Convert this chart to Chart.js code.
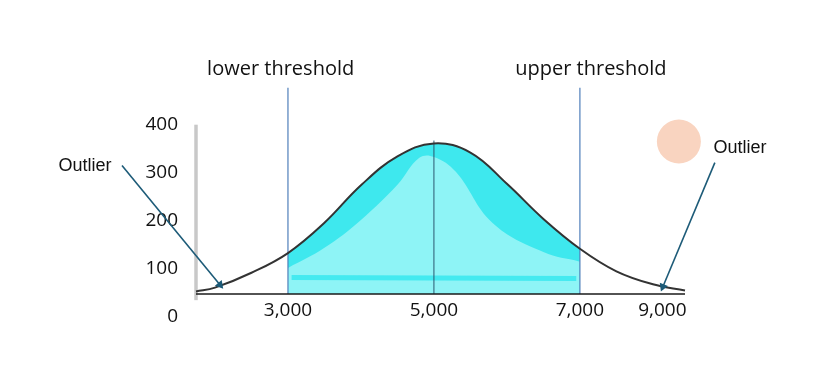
<!DOCTYPE html>
<html>
<head>
<meta charset="utf-8">
<script src="https://cdn.jsdelivr.net/npm/chart.js@4.4.1/dist/chart.umd.min.js"></script>
<style>
  html, body { margin: 0; padding: 0; background: #fff; }
  #wrap { position: relative; width: 826px; height: 372px; }
</style>
</head>
<body>
<div id="wrap"><canvas id="chart"></canvas></div>
<script>
  /* bell curve */
  const curveX = [1740, 2000, 2500, 3000, 3500, 4000, 4500, 5000, 5500, 6000, 6500, 7000, 7500, 8000, 8440];
  const curveY = [53, 61, 92, 133, 196, 274, 334, 361, 342, 277, 204, 142, 95, 68, 55];

  /* lighter inner part of the painted area */
  const innerX = [3000, 3500, 4000, 4500, 4800, 5000, 5300, 5800, 6500, 7000];
  const innerY = [102, 144, 202, 275, 331, 333, 302, 196, 135, 115];

  const lowerThreshold = 3000;
  const upperThreshold = 7000;
  const meanX = 5000;
  const baseY = 48;
  const thresholdTop = 477;

  const outlierX = [8356];
  const outlierY = [365];

  const xTickValues = [3000, 5000, 7000, 8130];
  const xTickLabels = ['3,000', '5,000', '7,000', '9,000'];
  const yTicks = [0, 100, 200, 300, 400];

  const xMin = 1740, xMax = 8440;

  const pts = (xs, ys) => xs.map((x, i) => ({ x: x, y: ys[i] }));
  const curve = pts(curveX, curveY);
  const shade = curve.filter(p => p.x >= lowerThreshold && p.x <= upperThreshold);

  const notes = [
    { text: 'lower threshold', x: 2900, y: 515, font: '20px "Open Sans"' },
    { text: 'upper threshold', x: 7150, y: 515, font: '20px "Open Sans"' },
    { text: 'Outlier', x: 219, y: 315, font: '18px "Liberation Sans"' },
    { text: 'Outlier', x: 9192, y: 352, font: '18px "Liberation Sans"' }
  ];

  const notesPlugin = {
    id: 'notes',
    afterDraw(chart) {
      const { ctx, scales } = chart;
      ctx.save();
      ctx.fillStyle = '#111';
      ctx.textAlign = 'center';
      ctx.textBaseline = 'middle';
      notes.forEach(n => {
        ctx.font = n.font;
        ctx.fillText(n.text, scales.x.getPixelForValue(n.x), scales.y.getPixelForValue(n.y));
      });
      ctx.restore();
    }
  };

  const plain = { pointRadius: 0, fill: false, clip: false, tension: 0 };

  function arrow(from, to, rot) {
    return Object.assign({}, plain, {
      data: [from, to],
      borderColor: '#1d5b78',
      backgroundColor: '#1d5b78',
      borderWidth: 1.6,
      pointRadius: [0, 3.5],
      pointStyle: 'triangle',
      pointRotation: [0, rot],
      order: 1
    });
  }

  new Chart(document.getElementById('chart'), {
    type: 'line',
    data: {
      datasets: [
        /* curve */
        Object.assign({}, plain, {
          data: curve, borderColor: '#333', borderWidth: 2,
          tension: 0.4, order: 2
        }),
        /* x axis line */
        Object.assign({}, plain, {
          data: [{ x: xMin, y: baseY }, { x: xMax, y: baseY }],
          borderColor: '#1a1a1a', borderWidth: 1.5, order: 3
        }),
        /* threshold lines */
        Object.assign({}, plain, {
          data: [{ x: lowerThreshold, y: baseY }, { x: lowerThreshold, y: thresholdTop }],
          borderColor: '#4f7fba', borderWidth: 1.2, order: 4
        }),
        Object.assign({}, plain, {
          data: [{ x: upperThreshold, y: baseY }, { x: upperThreshold, y: thresholdTop }],
          borderColor: '#4f7fba', borderWidth: 1.2, order: 4
        }),
        /* mean line */
        Object.assign({}, plain, {
          data: [{ x: meanX, y: baseY }, { x: meanX, y: 367 }],
          borderColor: '#2b5870', borderWidth: 1, order: 4
        }),
        /* grey y axis */
        Object.assign({}, plain, {
          data: [{ x: xMin, y: 35 }, { x: xMin, y: 400 }],
          borderColor: '#c8c8c8', borderWidth: 3.5, order: 5
        }),
        /* arrows */
        arrow({ x: 726, y: 315 }, { x: 2068, y: 67 }, 140),
        arrow({ x: 8849, y: 321 }, { x: 8137, y: 63 }, 203),
        /* outlier dot */
        {
          type: 'scatter',
          data: pts(outlierX, outlierY),
          pointRadius: 22,
          backgroundColor: '#f9d4c0',
          borderWidth: 0,
          clip: false,
          order: 6
        },
        /* painted streak near the bottom */
        Object.assign({}, plain, {
          data: [{ x: 3050, y: 82 }, { x: 6950, y: 80 }],
          borderColor: 'rgba(55,232,238,0.85)', borderWidth: 5, order: 7
        }),
        /* inner lighter paint */
        Object.assign({}, plain, {
          data: pts(innerX, innerY),
          borderWidth: 0,
          borderColor: 'rgba(0,0,0,0)',
          backgroundColor: '#8ef4f6',
          fill: { value: baseY },
          tension: 0.4,
          order: 8
        }),
        /* outer bright paint */
        Object.assign({}, plain, {
          data: shade,
          borderWidth: 0,
          borderColor: 'rgba(0,0,0,0)',
          backgroundColor: '#3ee8ee',
          fill: { value: baseY },
          tension: 0.4,
          order: 9
        })
      ]
    },
    options: {
      responsive: true,
      maintainAspectRatio: false,
      animation: false,
      events: [],
      layout: { padding: { top: 67, right: 141, left: 0, bottom: 0 } },
      plugins: { legend: { display: false }, tooltip: { enabled: false } },
      scales: {
        x: {
          type: 'linear',
          min: xMin,
          max: xMax,
          afterBuildTicks: s => { s.ticks = xTickValues.map(v => ({ value: v })); },
          afterFit: s => { s.height = 55; },
          grid: { display: false, drawTicks: false },
          border: { display: false },
          ticks: {
            autoSkip: false,
            maxRotation: 0,
            mirror: true,
            padding: -5,
            color: '#111',
            font: { family: 'Open Sans', size: 19 },
            callback: (v, i) => xTickLabels[i]
          }
        },
        y: {
          type: 'linear',
          min: 0,
          max: 520,
          afterBuildTicks: s => { s.ticks = yTicks.map(v => ({ value: v })); },
          afterFit: s => { s.width = 196; },
          grid: { display: false, drawTicks: false },
          border: { display: false },
          ticks: {
            padding: 18,
            color: '#111',
            font: { family: 'Open Sans', size: 19 }
          }
        }
      }
    },
    plugins: [notesPlugin]
  });
</script>
</body>
</html>
